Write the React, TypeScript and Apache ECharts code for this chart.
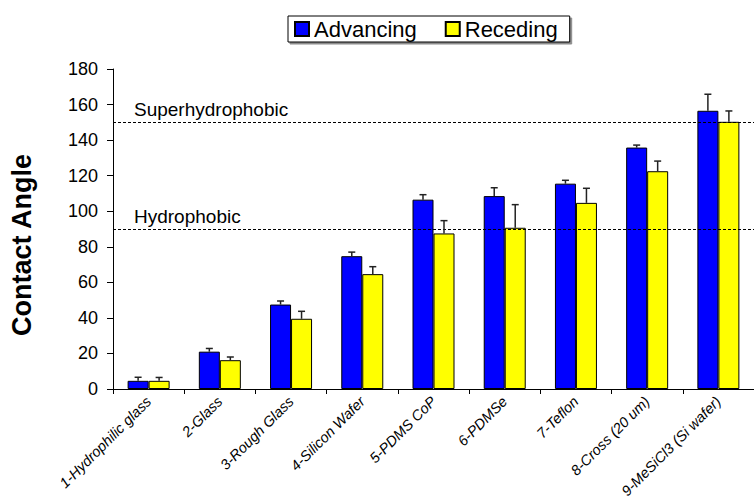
import React, { useEffect, useRef } from "react";
import * as echarts from "echarts";

const categories = [
  "1-Hydrophilic glass",
  "2-Glass",
  "3-Rough Glass",
  "4-Silicon Wafer",
  "5-PDMS CoP",
  "6-PDMSe",
  "7-Teflon",
  "8-Cross (20 um)",
  "9-MeSiCl3 (Si wafer)",
];
const advancing = [4.6, 21, 47.5, 74.7, 106.5, 108.5, 115.5, 135.8, 156.5];
const advancingErr = [2, 1.8, 2, 2.3, 2.8, 4.7, 1.9, 1.4, 9.3];
const receding = [4.6, 16.2, 39.5, 64.6, 87.5, 90.7, 104.7, 122.5, 150.3];
const recedingErr = [1.9, 1.8, 4.2, 4.2, 7.2, 13, 8.2, 5.7, 6.1];
const thresholdNames = ["Superhydrophobic", "Hydrophobic"];
const thresholdValues = [150, 90];
const yTicks = { min: 0, max: 180, interval: 20 };

const FONT = "'Liberation Sans', Arial, Helvetica, sans-serif";
const BAR_W = 21;

function errorSeries(name: string, vals: number[], errs: number[], offset: number) {
  return {
    type: "custom",
    name,
    z: 5,
    silent: true,
    data: vals.map((v, i) => [i, v, errs[i]]),
    encode: { x: 0, y: 1 },
    renderItem: (params: any, api: any) => {
      const i = api.value(0);
      const v = api.value(1);
      const e = api.value(2);
      const b = api.coord([i, v]);
      const t = api.coord([i, v + e]);
      const x = b[0] + offset;
      const style = { stroke: "#222", lineWidth: 1.5 };
      return {
        type: "group",
        children: [
          { type: "line", shape: { x1: x, y1: b[1], x2: x, y2: t[1] }, style },
          { type: "line", shape: { x1: x - 3.5, y1: t[1], x2: x + 3.5, y2: t[1] }, style },
        ],
      };
    },
  };
}

export default function App() {
  const ref = useRef<HTMLDivElement>(null);
  useEffect(() => {
    document.body.style.margin = "0";
    const chart = echarts.init(ref.current!, null, { renderer: "svg" });
    chart.setOption({
      animation: false,
      backgroundColor: "#fff",
      textStyle: { fontFamily: FONT, color: "#000" },
      legend: {
        data: ["Advancing", "Receding"],
        left: 288,
        top: 16,
        itemWidth: 14,
        itemHeight: 14,
        itemGap: 28,
        padding: [2, 12, 2, 6],
        borderColor: "#000",
        borderWidth: 1,
        backgroundColor: "#fff",
        shadowColor: "rgba(0,0,0,0.45)",
        shadowOffsetX: 2,
        shadowOffsetY: 2,
        shadowBlur: 0,
        icon: "rect",
        textStyle: { fontSize: 22, fontFamily: FONT, color: "#000" },
      },
      grid: { left: 103, right: 0, top: 69, bottom: 110, containLabel: false },
      xAxis: {
        type: "category",
        data: categories,
        axisLine: { lineStyle: { color: "#000", width: 1 } },
        axisTick: { show: true, alignWithLabel: false, interval: 0, length: 5, lineStyle: { color: "#000" } },
        axisLabel: {
          interval: 0,
          rotate: 45,
          fontSize: 14.5,
          fontStyle: "italic",
          fontFamily: FONT,
          color: "#000",
          margin: 10,
        },
        splitLine: { show: false },
      },
      yAxis: {
        type: "value",
        min: yTicks.min,
        max: yTicks.max,
        interval: yTicks.interval,
        name: "Contact Angle",
        nameLocation: "middle",
        nameGap: 78,
        nameTextStyle: {
          fontSize: 27,
          fontWeight: "bold",
          fontFamily: FONT,
          color: "#000",
          padding: [0, 32, 0, 0],
        },
        axisLine: { show: true, lineStyle: { color: "#000", width: 1 } },
        axisTick: { show: true, length: 6, lineStyle: { color: "#000" } },
        axisLabel: { fontSize: 18, fontFamily: FONT, color: "#000", margin: 15 },
        splitLine: { show: false },
      },
      series: [
        {
          type: "bar",
          name: "Advancing",
          data: advancing,
          barWidth: BAR_W,
          barGap: "0%",
          itemStyle: { color: "#0000ff", borderColor: "#000", borderWidth: 1 },
          markLine: {
            silent: true,
            symbol: "none",
            lineStyle: { type: [3, 2], color: "#000", width: 1 },
            label: {
              position: "insideStartTop",
              distance: [21, 3],
              fontSize: 19,
              fontFamily: FONT,
              color: "#000",
            },
            data: thresholdValues.map((v, i) => ({
              yAxis: v,
              label: { formatter: thresholdNames[i] },
            })),
          },
        },
        {
          type: "bar",
          name: "Receding",
          data: receding,
          barWidth: BAR_W,
          barGap: "0%",
          itemStyle: { color: "#ffff00", borderColor: "#000", borderWidth: 1 },
        },
        errorSeries("AdvErr", advancing, advancingErr, -BAR_W / 2),
        errorSeries("RecErr", receding, recedingErr, BAR_W / 2),
      ],
    });
    return () => chart.dispose();
  }, []);
  return <div ref={ref} style={{ width: 754, height: 501 }} />;
}
